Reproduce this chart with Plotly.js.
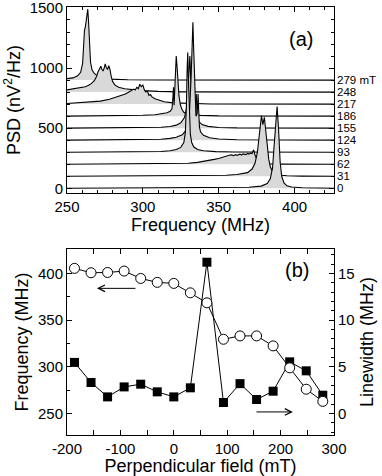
<!DOCTYPE html>
<html>
<head>
<meta charset="utf-8">
<script src="https://cdn.plot.ly/plotly-3.0.1.min.js"></script>
<style>
  html, body { margin: 0; padding: 0; background: #fff; }
  #plot { width: 382px; height: 476px; }
</style>
</head>
<body>
<div id="plot"></div>
<script>
// Panel (a): PSD spectra, one per perpendicular field, offset by 100 each
const fields = [0, 31, 62, 93, 124, 155, 186, 217, 248, 279];
const offsetStep = 100;

const f0 = [250, 350, 370, 378, 382, 384, 385.5, 386.5, 387.5, 388.5, 389.5, 390.5, 391.5, 393, 395, 398, 405, 426];
const p0 = [0, 3, 8, 18, 40, 78, 170, 350, 540, 680, 480, 220, 100, 45, 20, 10, 4, 0];

const f31 = [250, 340, 355, 362, 366, 369, 372, 374, 375.5, 376.5, 377.3, 378.2, 379.1, 380.1, 381, 382, 383, 384, 386, 389, 395, 405, 426];
const p31 = [0, 3, 8, 14, 20, 30, 60, 110, 200, 320, 430, 505, 430, 490, 380, 240, 140, 78, 25, 10, 4, 1, 0];

const f62 = [250, 300, 320, 330, 336, 340, 344, 347, 350, 352, 354, 356, 358, 360, 361, 362, 364, 365, 366, 368, 369, 370, 371, 372, 373, 373.7, 374.5, 375.5, 377, 380, 390, 426];
const p62 = [0, 2, 4, 8, 15, 22, 32, 40, 48, 55, 60, 70, 78, 72, 80, 74, 84, 76, 86, 80, 90, 84, 92, 88, 120, 85, 60, 30, 12, 4, 1, 0];

const f93 = [250, 300, 312, 318, 322, 325, 327, 328, 328.7, 329.2, 329.6, 330, 330.6, 331.3, 332.2, 333.5, 336, 340, 348, 360, 426];
const p93 = [0, 3, 6, 12, 22, 40, 80, 160, 380, 700, 830, 620, 300, 150, 80, 45, 22, 12, 5, 2, 0];

const f124 = [250, 300, 312, 318, 322, 326, 328, 329.5, 330.8, 331.8, 332.5, 333, 333.5, 334.2, 335, 335.8, 336.4, 336.8, 337.3, 338, 340, 344, 350, 362, 426];
const p124 = [0, 4, 8, 15, 25, 45, 75, 130, 250, 520, 820, 980, 760, 380, 200, 220, 385, 250, 110, 70, 40, 20, 10, 4, 0];

const f155 = [250, 300, 312, 318, 322, 325, 327.5, 329, 330, 330.6, 331, 331.5, 332.2, 333, 334, 334.7, 335.2, 335.8, 337, 339, 343, 350, 362, 426];
const p155 = [0, 3, 7, 14, 25, 45, 90, 180, 380, 560, 600, 430, 220, 140, 120, 220, 285, 110, 55, 30, 15, 6, 2, 0];

const f186 = [250, 290, 300, 308, 313, 316, 318, 319.2, 319.8, 320.2, 320.6, 321, 321.5, 322, 322.5, 323, 323.8, 324.7, 325.8, 327, 329, 332, 338, 350, 426];
const p186 = [0, 4, 7, 12, 20, 28, 40, 60, 150, 240, 90, 260, 440, 500, 420, 300, 170, 95, 55, 32, 20, 12, 6, 2, 0];

const f217 = [250, 258, 265, 272, 278, 282, 285, 288, 290, 292, 294, 295, 296, 297, 298, 299, 300, 301, 302, 303, 304, 305, 306, 308, 310, 314, 320, 330, 345, 426];
const p217 = [5, 10, 15, 25, 40, 55, 70, 82, 95, 110, 125, 118, 140, 128, 165, 145, 158, 118, 100, 108, 72, 80, 60, 45, 35, 20, 10, 4, 1, 0];

const f248 = [250, 254, 259, 262, 264, 266, 268, 269.5, 270.5, 271.5, 272.3, 273, 273.8, 274.5, 275.2, 276, 276.8, 277.5, 278.3, 279, 280, 281.5, 284, 288, 294, 300, 310, 325, 426];
const p248 = [18, 25, 35, 45, 55, 70, 95, 130, 170, 200, 215, 190, 175, 200, 235, 200, 190, 220, 190, 140, 90, 60, 40, 28, 18, 12, 6, 2, 0];

const f279 = [250, 254, 257, 259, 260.3, 261, 261.5, 262.2, 262.8, 263.3, 263.7, 264.2, 264.8, 265.5, 266.5, 268, 270, 273, 278, 290, 310, 426];
const p279 = [12, 18, 35, 65, 140, 300, 410, 450, 520, 570, 590, 490, 300, 150, 85, 55, 35, 18, 8, 3, 1, 0];

const spectraFreq = [f0, f31, f62, f93, f124, f155, f186, f217, f248, f279];
const spectraPsd = [p0, p31, p62, p93, p124, p155, p186, p217, p248, p279];
const fieldLabels = ["0", "31", "62", "93", "124", "155", "186", "217", "248", "279 mT"];
const psdTickVals = [0, 500, 1000, 1500];

// Panel (b): frequency and linewidth vs perpendicular field
const perpField = [-186, -155, -124, -93, -62, -31, 0, 31, 62, 93, 124, 155, 186, 217, 248, 279];
const peakFreq = [405.4, 400.7, 401, 402.5, 394.6, 390.4, 389.3, 379.2, 368.5, 329.5, 333.1, 333.1, 322.4, 298.9, 276, 263];
const linewidth = [5.47, 3.32, 1.78, 2.85, 3.14, 2.32, 1.78, 2.75, 16.2, 1.18, 3.2, 1.5, 2.39, 5.53, 4.57, 1.96];

const fieldTickVals = [-200, -100, 0, 100, 200, 300];
const fieldTickText = ["-200", "-100", "0", "100", "200", "300"];

const fontFamily = "Liberation Sans, Arial, Helvetica, sans-serif";
const fillGray = "#d9d9d9";

const data = [];

// Draw from the top (back) spectrum down to the bottom (front) one
for (let k = fields.length - 1; k >= 0; k--) {
  const off = k * offsetStep;
  const fx = spectraFreq[k];
  const py = spectraPsd[k].map(v => v + off);

  // gray area between the spectrum and its own baseline
  data.push({
    x: fx.concat([fx[fx.length - 1], fx[0]]),
    y: py.concat([off, off]),
    xaxis: "x", yaxis: "y",
    type: "scatter", mode: "lines",
    fill: "toself", fillcolor: fillGray,
    line: { width: 0 },
    hoverinfo: "skip"
  });
  data.push({
    x: fx, y: py,
    xaxis: "x", yaxis: "y",
    type: "scatter", mode: "lines",
    line: { color: "black", width: 1.1 }
  });
}

// Linewidth (squares, right axis)
data.push({
  x: perpField, y: linewidth,
  xaxis: "x2", yaxis: "y2",
  type: "scatter", mode: "lines+markers",
  line: { color: "black", width: 1 },
  marker: { symbol: "square", size: 9, color: "black" }
});

// Frequency (open circles, left axis) drawn on top
data.push({
  x: perpField, y: peakFreq,
  xaxis: "x2", yaxis: "y3",
  type: "scatter", mode: "lines+markers",
  line: { color: "black", width: 1 },
  marker: { symbol: "circle", size: 10, color: "white", line: { color: "black", width: 1 } }
});

const axisCommon = {
  showline: true, linecolor: "black", linewidth: 1,
  ticks: "inside", ticklen: 5, tickwidth: 1, tickcolor: "black",
  showgrid: false, zeroline: false, ticklabeloverflow: "allow",
  tickfont: { size: 15, family: fontFamily, color: "black" }
};

const annotations = [];

// field labels at the right of each spectrum baseline
fields.forEach((f, k) => {
  annotations.push({
    xref: "paper", yref: "y", x: 1, y: k * offsetStep,
    xanchor: "left", yanchor: "middle", xshift: 2,
    text: fieldLabels[k], showarrow: false, borderpad: 0,
    font: { size: 11.5, family: fontFamily, color: "black" }
  });
});

annotations.push(
  { xref: "paper", yref: "paper", x: 0.927, y: 0.956, text: "(a)", showarrow: false,
    font: { size: 20, family: fontFamily, color: "black" } },
  { xref: "paper", yref: "paper", x: 0.915, y: 0.385, text: "(b)", showarrow: false,
    font: { size: 20, family: fontFamily, color: "black" } },
  // arrows telling which axis each curve uses
  { xref: "x2", yref: "y3", x: -144, y: 384, axref: "x2", ayref: "y3", ax: -69, ay: 384,
    showarrow: true, arrowhead: 5, arrowsize: 1.3, arrowwidth: 1, arrowcolor: "black", text: "" },
  { xref: "x2", yref: "y2", x: 223, y: 0.17, axref: "x2", ayref: "y2", ax: 152, ay: 0.17,
    showarrow: true, arrowhead: 5, arrowsize: 1.3, arrowwidth: 1, arrowcolor: "black", text: "" }
);

const titleFont = { size: 18, family: fontFamily, color: "black" };

const layout = {
  width: 382, height: 476,
  margin: { l: 67, r: 48, t: 7, b: 41 },
  paper_bgcolor: "white", plot_bgcolor: "white",
  showlegend: false,
  font: { family: fontFamily, color: "black" },
  xaxis: Object.assign({}, axisCommon, {
    domain: [0, 1], anchor: "y", range: [250, 426],
    tick0: 250, dtick: 50, mirror: "allticks",
    minor: { tick0: 250, dtick: 10, ticks: "inside", ticklen: 3, tickcolor: "black", showgrid: false },
    title: { text: "Frequency (MHz)", font: titleFont, standoff: 2 }
  }),
  yaxis: Object.assign({}, axisCommon, {
    domain: [0.5650, 1], anchor: "x", range: [-41, 1508],
    tickmode: "array", tickvals: psdTickVals, mirror: "allticks",
    minor: { tickmode: "linear", tick0: 0, dtick: 100, ticks: "inside", ticklen: 3, tickcolor: "black", showgrid: false },
    title: { text: "PSD (nV<sup>2</sup>/Hz)", font: titleFont, standoff: 4 }
  }),
  xaxis2: Object.assign({}, axisCommon, {
    domain: [0, 1], anchor: "y2", range: [-200, 300],
    tickmode: "array", tickvals: fieldTickVals, ticktext: fieldTickText, mirror: "allticks",
    minor: { tickmode: "linear", tick0: -200, dtick: 50, ticks: "inside", ticklen: 3, tickcolor: "black", showgrid: false },
    title: { text: "Perpendicular field (mT)", font: titleFont, standoff: 2 }
  }),
  yaxis2: Object.assign({}, axisCommon, {
    domain: [0, 0.4343], anchor: "x2", side: "right", range: [-2.3, 17.6],
    tick0: 0, dtick: 5,
    minor: { tick0: 0, dtick: 1, ticks: "inside", ticklen: 3, tickcolor: "black", showgrid: false },
    title: { text: "Linewidth (MHz)", font: titleFont, standoff: 6 }
  }),
  yaxis3: Object.assign({}, axisCommon, {
    overlaying: "y2", anchor: "x2", side: "left", range: [227, 426],
    tick0: 250, dtick: 50,
    minor: { tick0: 250, dtick: 25, ticks: "inside", ticklen: 3, tickcolor: "black", showgrid: false },
    title: { text: "Frequency (MHz)", font: titleFont, standoff: 4 }
  }),
  annotations: annotations
};

Plotly.newPlot("plot", data, layout, { displayModeBar: false, staticPlot: true });
</script>
</body>
</html>
